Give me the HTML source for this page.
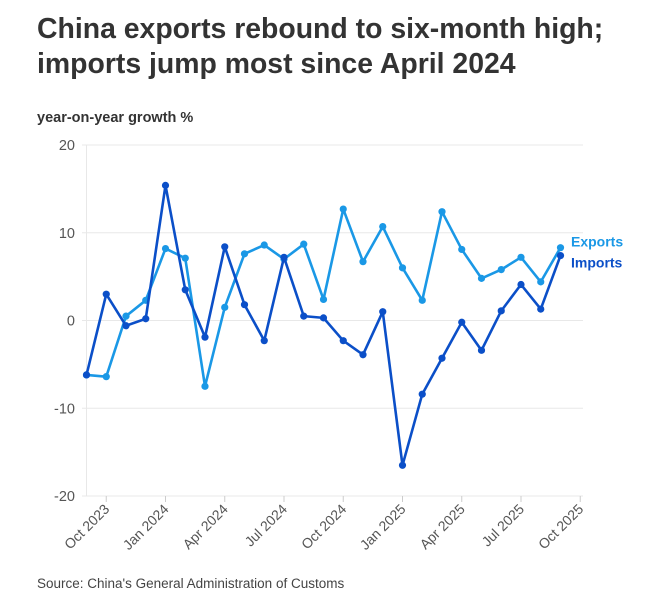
<!DOCTYPE html>
<html><head><meta charset="utf-8"><style>
body{margin:0;background:#fff;font-family:"Liberation Sans",sans-serif;width:655px;height:604px;overflow:hidden;position:relative}
h1{position:absolute;left:37px;top:12px;margin:0;font-size:28.4px;line-height:35px;color:#333;font-weight:bold}
.sub{position:absolute;left:37px;top:110px;font-size:14.5px;font-weight:bold;color:#333}
.src{position:absolute;left:37px;top:576px;font-size:13.5px;color:#444}
svg{position:absolute;left:0;top:0}
</style></head><body>
<h1>China exports rebound to six-month high;<br>imports jump most since April 2024</h1>
<div class="sub">year-on-year growth %</div>
<div class="src">Source: China's General Administration of Customs</div>
<svg id="chart" width="655" height="604"></svg>
<script>
const months=25; // Sep 2023 .. Sep 2025
const exportsData=[-6.2,-6.4,0.5,2.3,8.2,7.1,-7.5,1.5,7.6,8.6,7.0,8.7,2.4,12.7,6.7,10.7,6.0,2.3,12.4,8.1,4.8,5.8,7.2,4.4,8.3];
const importsData=[-6.2,3.0,-0.6,0.2,15.4,3.5,-1.9,8.4,1.8,-2.3,7.2,0.5,0.3,-2.3,-3.9,1.0,-16.5,-8.4,-4.3,-0.2,-3.4,1.1,4.1,1.3,7.4];
const yTicks=[20,10,0,-10,-20];
const xTickLabels=["Oct 2023","Jan 2024","Apr 2024","Jul 2024","Oct 2024","Jan 2025","Apr 2025","Jul 2025","Oct 2025"];
const xTickIdx=[1,4,7,10,13,16,19,22,25];
const NS="http://www.w3.org/2000/svg";
const svg=document.getElementById('chart');
const x0=86.5,dx=19.75,yTop=145,yBot=496;
const X=i=>x0+i*dx;
const Y=v=>yTop+(20-v)*(yBot-yTop)/40;
function mk(t,a){const e=document.createElementNS(NS,t);for(const k in a)e.setAttribute(k,a[k]);svg.appendChild(e);return e;}
yTicks.forEach(v=>{
 const g=mk('line',{x1:82,x2:583,y1:Y(v),y2:Y(v),stroke:'#e8e8e8','stroke-width':1});
 
 
 const t=mk('text',{x:75,y:Y(v)+5,'text-anchor':'end','font-size':14.5,fill:'#555','font-family':'Liberation Sans, sans-serif'});
 t.textContent=v;
 
 
});
const ax=mk('line',{x1:x0,x2:x0,y1:yTop,y2:yBot,stroke:'#e8e8e8'});


xTickIdx.forEach((i,k)=>{
 const l=mk('line',{x1:X(i),x2:X(i),y1:yBot,y2:yBot+6,stroke:'#ccc'});
 
 
 const t=mk('text',{x:X(i)+4,y:yBot+14,'text-anchor':'end','font-size':14,fill:'#555','font-family':'Liberation Sans, sans-serif',transform:`rotate(-45 ${X(i)+4} ${yBot+14})`});
 t.textContent=xTickLabels[k];
 
 
});
function series(data,color,name){
 const p=mk('polyline',{points:data.map((v,i)=>X(i)+','+Y(v)).join(' '),fill:'none',stroke:color,'stroke-width':2.6,'stroke-linejoin':'round'});
 
 
 data.forEach((v,i)=>{
  const c=mk('circle',{cx:X(i),cy:Y(v),r:3.6,fill:color});
  
  
 });
}
series(exportsData,'#1a98e6','exports');
series(importsData,'#0b4fc8','imports');
const last=months-1;
const le=mk('text',{x:571,y:Y(exportsData[last])-1,'font-size':14,'font-weight':'bold',fill:'#1a98e6','font-family':'Liberation Sans, sans-serif'});
le.textContent='Exports';


const li=mk('text',{x:571,y:Y(importsData[last])+12,'font-size':14,'font-weight':'bold',fill:'#0b4fc8','font-family':'Liberation Sans, sans-serif'});
li.textContent='Imports';


</script>
</body></html>
